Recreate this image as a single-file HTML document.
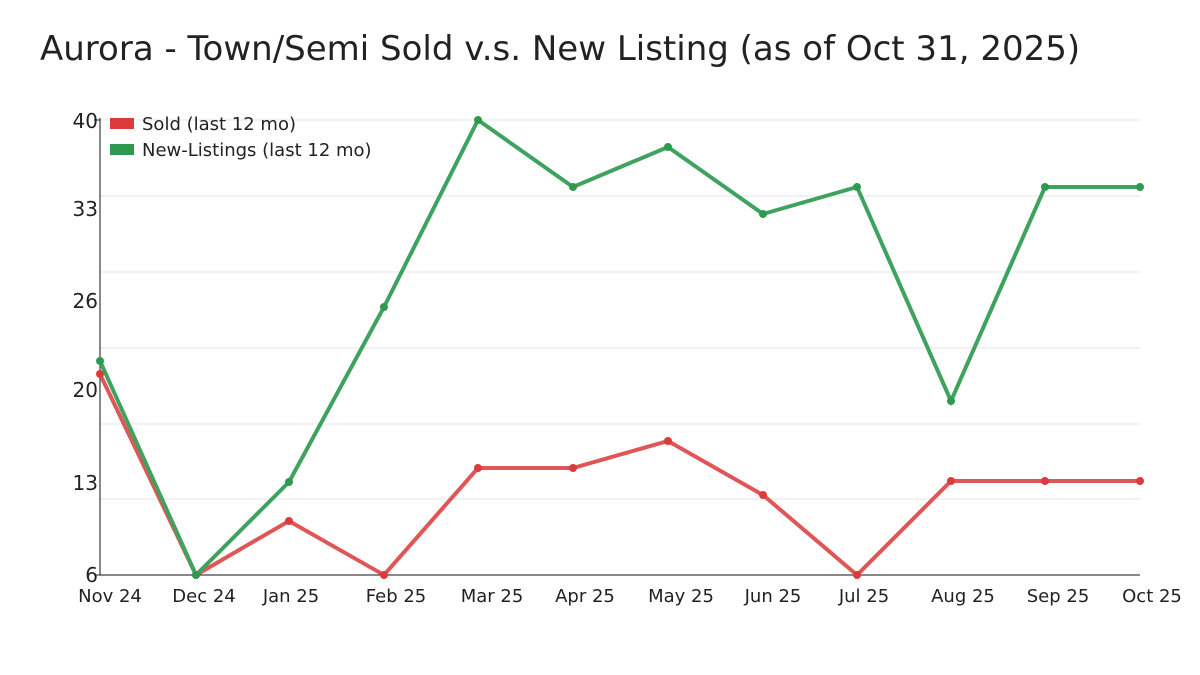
<!DOCTYPE html>
<html><head><meta charset="utf-8"><style>
html,body{margin:0;padding:0;background:#fff;}
svg{display:block;font-family:"DejaVu Sans","Liberation Sans",sans-serif;}
</style></head><body>
<svg width="1200" height="675" viewBox="0 0 1200 675">
<text x="40" y="60" font-size="34" fill="#222">Aurora - Town/Semi Sold v.s. New Listing (as of Oct 31, 2025)</text>
<g stroke="#e6e6e6" stroke-width="1">
<line x1="100" x2="1140" y1="120" y2="120"/><line x1="100" x2="1140" y1="196" y2="196"/>
<line x1="100" x2="1140" y1="272" y2="272"/><line x1="100" x2="1140" y1="348" y2="348"/>
<line x1="100" x2="1140" y1="424" y2="424"/><line x1="100" x2="1140" y1="499" y2="499"/>
</g>
<line x1="100" y1="118" x2="100" y2="575" stroke="#111"/>
<line x1="100" y1="575" x2="1140" y2="575" stroke="#111"/>
<g font-size="20" fill="#222" text-anchor="end">
<text x="98" y="582">6</text><text x="98" y="490">13</text><text x="98" y="397">20</text>
<text x="98" y="308">26</text><text x="98" y="216">33</text><text x="98" y="128">40</text>
</g>
<g stroke="#222"><line x1="94" x2="100" y1="120" y2="120"/><line x1="94" x2="100" y1="575" y2="575"/></g>
<g font-size="18" fill="#222" text-anchor="middle">
<text x="110" y="602">Nov 24</text><text x="204" y="602">Dec 24</text><text x="291" y="602">Jan 25</text>
<text x="396" y="602">Feb 25</text><text x="492" y="602">Mar 25</text><text x="585" y="602">Apr 25</text>
<text x="681" y="602">May 25</text><text x="773" y="602">Jun 25</text><text x="864" y="602">Jul 25</text>
<text x="963" y="602">Aug 25</text><text x="1058" y="602">Sep 25</text><text x="1152" y="602">Oct 25</text>
</g>
<polyline fill="none" stroke="#e05555" stroke-width="4" points="100,374 196,575 289,521 384,575 478,468 573,468 668,441 763,495 857,575 951,481 1045,481 1140,481"/>
<g fill="#dc3b3b">
<circle cx="100" cy="374" r="4"/><circle cx="196" cy="575" r="4"/><circle cx="289" cy="521" r="4"/><circle cx="384" cy="575" r="4"/><circle cx="478" cy="468" r="4"/><circle cx="573" cy="468" r="4"/><circle cx="668" cy="441" r="4"/><circle cx="763" cy="495" r="4"/><circle cx="857" cy="575" r="4"/><circle cx="951" cy="481" r="4"/><circle cx="1045" cy="481" r="4"/><circle cx="1140" cy="481" r="4"/>
</g>
<polyline fill="none" stroke="#3fa35f" stroke-width="4" points="100,361 196,575 289,482 384,307 478,120 573,187 668,147 763,214 857,187 951,401 1045,187 1140,187"/>
<g fill="#2e9a50">
<circle cx="100" cy="361" r="4"/><circle cx="196" cy="575" r="4"/><circle cx="289" cy="482" r="4"/><circle cx="384" cy="307" r="4"/><circle cx="478" cy="120" r="4"/><circle cx="573" cy="187" r="4"/><circle cx="668" cy="147" r="4"/><circle cx="763" cy="214" r="4"/><circle cx="857" cy="187" r="4"/><circle cx="951" cy="401" r="4"/><circle cx="1045" cy="187" r="4"/><circle cx="1140" cy="187" r="4"/>
</g>
<rect x="110" y="118" width="24" height="11" fill="#dc3b3b"/>
<rect x="110" y="144" width="24" height="11" fill="#2e9a50"/>
<g font-size="18" fill="#222"><text x="142" y="130">Sold (last 12 mo)</text><text x="142" y="156">New-Listings (last 12 mo)</text></g>
</svg>
</body></html>
